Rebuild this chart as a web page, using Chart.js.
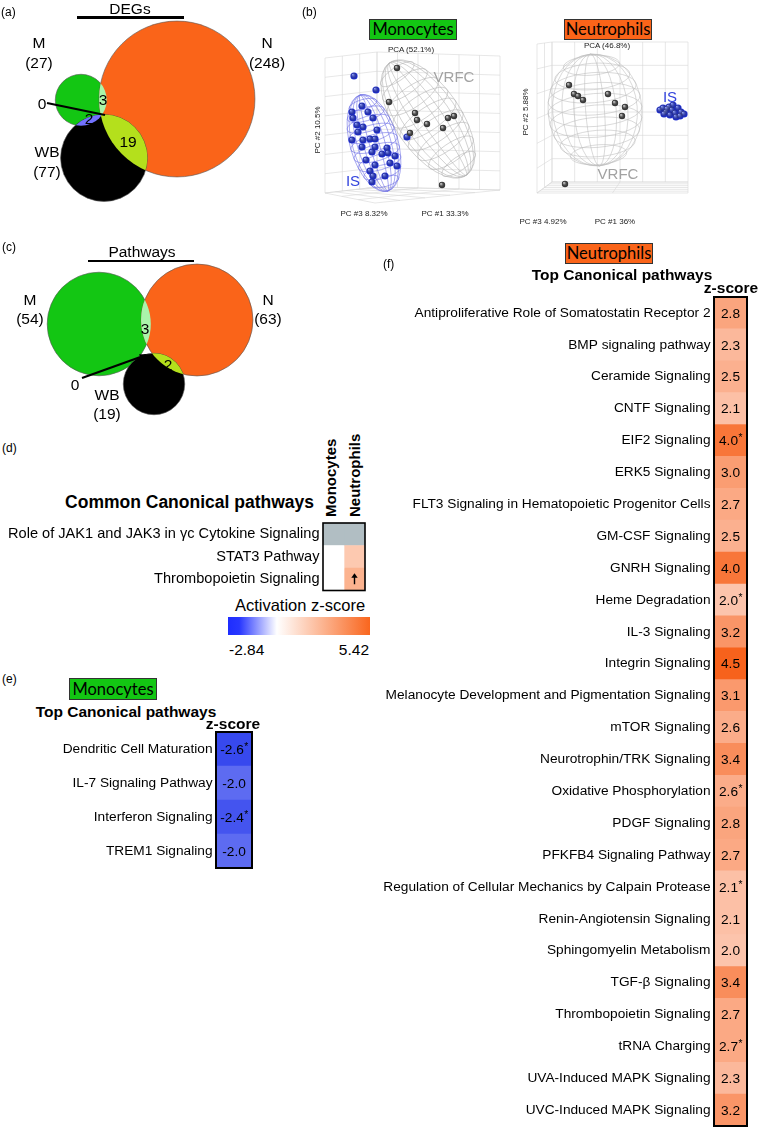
<!DOCTYPE html>
<html>
<head>
<meta charset="utf-8">
<script src="https://cdn.jsdelivr.net/npm/chart.js@4.4.1/dist/chart.umd.min.js"></script>
<style>
  html, body { margin: 0; padding: 0; background: #fff; }
  #page { position: relative; width: 760px; height: 1132px; overflow: hidden;
          font-family: "Liberation Sans", Arial, sans-serif; color: #000; }
  #page canvas { position: absolute; }
  .t { position: absolute; white-space: nowrap; line-height: 1; }
  .tag { position: absolute; font-family: Lato, sans-serif; font-size: 16.5px; border: 1px solid #333;
         text-align: center; box-sizing: border-box; }
  .rule { position: absolute; background: #000; }
</style>
</head>
<body>
<div id="page">
  <canvas id="vennA" width="300" height="240" style="left:0;top:0"></canvas>
  <canvas id="pcaMono" width="215" height="185" style="left:300px;top:40px"></canvas>
  <canvas id="pcaNeut" width="245" height="190" style="left:515px;top:40px"></canvas>
  <canvas id="vennC" width="300" height="200" style="left:0;top:240px"></canvas>
  <canvas id="heatD" width="372" height="76" style="left:0;top:518px"></canvas>
  <canvas id="heatE" width="258" height="144" style="left:0;top:728px"></canvas>
  <canvas id="heatF" width="390" height="839" style="left:370px;top:293px"></canvas>
</div>
<script>
// ---------- data ----------
const vennSets = ['M', 'N', 'WB'];
const degCounts = [27, 248, 77];
const degShared = [3, 2, 19, 0];     // M∩N, M∩WB, N∩WB, all three
const pathCounts = [54, 63, 19];
const pathShared = [3, 0, 2, 0];

// PCA, positions on the projected plane of the 3-D plots
const monoIS = [[354,76],[376,90],[352,112],[362,106],[353,118],[368,112],[373,118],[363,127],
  [358,132],[352,140],[363,140],[370,139],[375,139],[362,147],[375,147],[372,152],[387,148],
  [382,154],[388,153],[395,156],[390,163],[397,166],[375,165],[370,171],[385,176],[373,176],
  [372,182],[407,137],[377,130],[357,125],[366,160]];
const monoVRFC = [[397,68],[389,102],[415,113],[417,120],[427,124],[448,118],[454,116],
  [443,128],[410,133],[442,185]];
const neutIS = [[660,110],[663,108],[666,112],[669,107],[672,110],[675,113],[678,108],[681,112],
  [684,114],[670,115],[676,117],[664,114],[673,105],[680,116],[667,109]];
const neutVRFC = [[569,85],[574,94],[578,96],[583,100],[608,94],[615,103],[625,107],[622,116],[565,184]];

const commonPathways = ['Role of JAK1 and JAK3 in γc Cytokine Signaling', 'STAT3 Pathway', 'Thrombopoietin Signaling'];
const commonMonoZ = [null, 0, 0];
const commonNeutZ = [null, 1.9, 2.7];
const commonNeutMark = ['', '', '↑'];
const zRange = [-2.84, 5.42];

const monoPathways = ['Dendritic Cell Maturation', 'IL-7 Signaling Pathway', 'Interferon Signaling', 'TREM1 Signaling'];
const monoZ = [-2.6, -2.0, -2.4, -2.0];
const monoStar = [1, 0, 1, 0];

const neutPathways = [
  'Antiproliferative Role of Somatostatin Receptor 2', 'BMP signaling pathway', 'Ceramide Signaling',
  'CNTF Signaling', 'EIF2 Signaling', 'ERK5 Signaling', 'FLT3 Signaling in Hematopoietic Progenitor Cells',
  'GM-CSF Signaling', 'GNRH Signaling', 'Heme Degradation', 'IL-3 Signaling', 'Integrin Signaling',
  'Melanocyte Development and Pigmentation Signaling', 'mTOR Signaling', 'Neurotrophin/TRK Signaling',
  'Oxidative Phosphorylation', 'PDGF Signaling', 'PFKFB4 Signaling Pathway',
  'Regulation of Cellular Mechanics by Calpain Protease', 'Renin-Angiotensin Signaling',
  'Sphingomyelin Metabolism', 'TGF-β Signaling', 'Thrombopoietin Signaling', 'tRNA Charging',
  'UVA-Induced MAPK Signaling', 'UVC-Induced MAPK Signaling'];
const neutZ = [2.8, 2.3, 2.5, 2.1, 4.0, 3.0, 2.7, 2.5, 4.0, 2.0, 3.2, 4.5, 3.1, 2.6, 3.4, 2.6,
  2.8, 2.7, 2.1, 2.1, 2.0, 3.4, 2.7, 2.7, 2.3, 3.2];
const neutStar = [0,0,0,0,1,0,0,0,0,1,0,0,0,0,0,1,0,0,1,0,0,0,0,1,0,0];

// ---------- helpers ----------
const page = document.getElementById('page');
Chart.defaults.font.family = '"Liberation Sans", Arial, sans-serif';
Chart.defaults.color = '#000';

function txt(s, x, y, o = {}) {
  const d = document.createElement('div');
  d.className = 't';
  d.textContent = s;
  d.style.left = x + 'px';
  d.style.top = y + 'px';
  d.style.fontSize = (o.size || 15.5) + 'px';
  if (o.bold) d.style.fontWeight = 'bold';
  if (o.color) d.style.color = o.color;
  if (o.up) {           // rotated, reading upwards from (x, y)
    d.style.transformOrigin = '0 0';
    d.style.transform = 'rotate(-90deg) translate(0, -50%)';
  } else {
    const ax = o.align === 'left' ? '0' : o.align === 'right' ? '-100%' : '-50%';
    d.style.transform = `translate(${ax}, -50%)` + (o.rot ? ` rotate(${o.rot}deg)` : '');
  }
  page.appendChild(d);
}
function tag(s, x, y, w, h, bg) {
  const d = document.createElement('div');
  d.className = 'tag';
  d.textContent = s;
  Object.assign(d.style, { left: x + 'px', top: y + 'px', width: w + 'px', height: h + 'px',
    lineHeight: (h - 2) + 'px', background: bg });
  page.appendChild(d);
}
function rule(x, y, w, h) {
  const d = document.createElement('div');
  d.className = 'rule';
  Object.assign(d.style, { left: x + 'px', top: y + 'px', width: w + 'px', height: h + 'px' });
  page.appendChild(d);
}
function mix(a, b, t) {
  t = Math.max(0, Math.min(1, t));
  return 'rgb(' + a.map((v, i) => Math.round(v + (b[i] - v) * t)).join(',') + ')';
}
const neutColor = z => mix([252, 196, 172], [247, 98, 28], (z - 2) / 2.5);
const monoColor = z => mix([125, 135, 243], [30, 50, 236], (-z - 1.5) / 1.5);
const scaleColor = z => z == null ? '#b1bec3'
  : z < 0 ? mix([255, 255, 255], [30, 45, 255], z / zRange[0])
  : mix([255, 255, 255], [249, 102, 30], z / zRange[1]);

// ---------- venn diagrams ----------
const vennColors = ['#13c613', '#fa6419', '#000000'];

const vennPaint = {
  id: 'vennPaint',
  afterDatasetsDraw(chart, args, o) {
    const c = chart.ctx, pts = chart.getDatasetMeta(0).data;
    const circle = p => { c.beginPath(); c.arc(p.x, p.y, p.options.radius, 0, Math.PI * 2); };
    o.lenses.forEach(([i, j, n, col]) => {
      if (!n) return;
      c.save(); circle(pts[i]); c.clip(); circle(pts[j]); c.fillStyle = col; c.fill(); c.restore();
    });
    const sx = chart.scales.x, sy = chart.scales.y;
    const p = o.pointer;
    const x1 = sx.getPixelForValue(p.from[0]), y1 = sy.getPixelForValue(p.from[1]);
    const x2 = sx.getPixelForValue(p.to[0]), y2 = sy.getPixelForValue(p.to[1]);
    c.save();
    c.strokeStyle = '#000'; c.fillStyle = '#000'; c.lineWidth = 2.2;
    c.beginPath(); c.moveTo(x1, y1); c.lineTo(x2, y2); c.stroke();
    if (p.head) {
      const a = Math.atan2(y2 - y1, x2 - x1);
      c.beginPath();
      c.moveTo(x2 + 2 * Math.cos(a), y2 + 2 * Math.sin(a));
      c.lineTo(x2 - 7 * Math.cos(a - 0.45), y2 - 7 * Math.sin(a - 0.45));
      c.lineTo(x2 - 7 * Math.cos(a + 0.45), y2 - 7 * Math.sin(a + 0.45));
      c.closePath(); c.fill();
    }
    c.restore();
  }
};

function venn(id, counts, shared, layout, box, pointer) {
  new Chart(document.getElementById(id), {
    type: 'bubble',
    data: {
      datasets: [{
        data: vennSets.map((s, i) => ({ x: layout.x[i], y: layout.y[i], r: layout.k * Math.sqrt(counts[i]) })),
        backgroundColor: vennColors,
        borderColor: '#555',
        borderWidth: 0.6,
        clip: false
      }]
    },
    options: {
      responsive: false, animation: false, events: [],
      layout: { padding: 0, autoPadding: false },
      scales: {
        x: { display: false, min: box[0], max: box[1] },
        y: { display: false, min: box[2], max: box[3], reverse: true }
      },
      plugins: {
        legend: { display: false }, tooltip: { enabled: false },
        vennPaint: {
          lenses: [[0, 1, shared[0], '#aaf5aa'], [0, 2, shared[1], '#7272ff'], [1, 2, shared[2], '#b4e01c']],
          pointer
        }
      }
    },
    plugins: [vennPaint]
  });
}

venn('vennA', degCounts, degShared, { x: [81, 177, 104], y: [100, 99, 158], k: 4.95 }, [0, 300, 0, 240],
  { from: [47, 103], to: [105, 115], head: false });
venn('vennC', pathCounts, pathShared, { x: [99, 197, 154], y: [324, 320, 384], k: 7.05 }, [0, 300, 240, 440],
  { from: [82, 378], to: [146, 355], head: true });

// venn texts
txt('(a)', 1, 12, { size: 12, align: 'left' });
txt('DEGs', 130, 9);
rule(77, 16, 107, 2.5);
const degPos = [[39, 43], [267, 43], [47, 152]];
vennSets.forEach((s, i) => { txt(s, degPos[i][0], degPos[i][1]); txt('(' + degCounts[i] + ')', degPos[i][0], degPos[i][1] + 19.5); });
txt(String(degShared[3]), 42, 104);
txt(String(degShared[0]), 103, 100);
txt(String(degShared[1]), 89, 119);
txt(String(degShared[2]), 128, 142);

txt('(c)', 2, 247, { size: 12, align: 'left' });
txt('Pathways', 142, 252);
rule(88, 259.5, 106, 2.5);
const pathPos = [[30, 300], [268, 300], [107, 395]];
vennSets.forEach((s, i) => { txt(s, pathPos[i][0], pathPos[i][1]); txt('(' + pathCounts[i] + ')', pathPos[i][0], pathPos[i][1] + 19); });
txt(String(pathShared[3]), 75, 385);
txt(String(pathShared[0]), 145, 329);
txt(String(pathShared[2]), 168, 365);

// ---------- PCA plots ----------
function quadGrid(q, nu, nv) {
  const lerp = (a, b, t) => [a[0] + (b[0] - a[0]) * t, a[1] + (b[1] - a[1]) * t];
  const L = [];
  for (let i = 0; i <= nu; i++) L.push([lerp(q[0], q[1], i / nu), lerp(q[3], q[2], i / nu)]);
  for (let j = 0; j <= nv; j++) L.push([lerp(q[0], q[3], j / nv), lerp(q[1], q[2], j / nv)]);
  return L;
}

const pcaFrame = {
  id: 'pcaFrame',
  beforeDatasetsDraw(chart, args, o) {
    const c = chart.ctx, sx = chart.scales.x, sy = chart.scales.y;
    const P = p => [sx.getPixelForValue(p[0]), sy.getPixelForValue(p[1])];
    c.save();
    c.lineWidth = 0.6;
    c.strokeStyle = '#d6d6d6';
    o.walls.forEach(w => quadGrid(w.q, w.nu, w.nv).forEach(([a, b]) => {
      const A = P(a), B = P(b);
      c.beginPath(); c.moveTo(A[0], A[1]); c.lineTo(B[0], B[1]); c.stroke();
    }));
    o.ellipsoids.forEach(e => {
      const [ex, ey] = P([e.x, e.y]);
      c.save();
      c.translate(ex, ey); c.rotate(e.rot);
      c.strokeStyle = e.color; c.lineWidth = 0.55;
      c.beginPath(); c.ellipse(0, 0, e.rx, e.ry, 0, 0, Math.PI * 2); c.stroke();
      [0.2, 0.45, 0.7, 0.9].forEach(k => {
        c.beginPath(); c.ellipse(0, 0, e.rx * k, e.ry, 0, 0, Math.PI * 2); c.stroke();
      });
      for (let i = 1; i < 10; i++) {
        const t = -1 + i * 0.2, hw = e.rx * Math.sqrt(1 - t * t);
        c.beginPath(); c.ellipse(0, e.ry * t, hw, hw * 0.35, 0, 0, Math.PI * 2); c.stroke();
      }
      c.restore();
    });
    c.restore();
  },
  // shading on top of the points so they read as spheres
  afterDatasetsDraw(chart) {
    const c = chart.ctx;
    chart.data.datasets.forEach((ds, di) => {
      chart.getDatasetMeta(di).data.forEach(pt => {
        const r = pt.options.radius;
        if (!isFinite(pt.x) || !isFinite(pt.y)) return;
        const g = c.createRadialGradient(pt.x - r * 0.35, pt.y - r * 0.4, 0.2, pt.x, pt.y, r);
        g.addColorStop(0, ds.light);
        g.addColorStop(1, 'rgba(0,0,0,0)');
        c.beginPath(); c.arc(pt.x, pt.y, r, 0, Math.PI * 2);
        c.fillStyle = g; c.fill();
      });
    });
  }
};

function pca(id, box, groups, walls, ellipsoids) {
  new Chart(document.getElementById(id), {
    type: 'scatter',
    data: {
      datasets: groups.map(g => ({
        data: g.pts.map(([x, y]) => ({ x, y })),
        pointRadius: g.r,
        backgroundColor: g.base,
        light: g.light,
        borderWidth: 0,
        clip: false
      }))
    },
    options: {
      responsive: false, animation: false, events: [],
      layout: { padding: 0, autoPadding: false },
      scales: {
        x: { display: false, min: box[0], max: box[1] },
        y: { display: false, min: box[2], max: box[3], reverse: true }
      },
      plugins: { legend: { display: false }, tooltip: { enabled: false }, pcaFrame: { walls, ellipsoids } }
    },
    plugins: [pcaFrame]
  });
}

pca('pcaMono', [300, 515, 40, 225],
  [{ pts: monoVRFC, r: 3.2, base: '#3c3c3c', light: 'rgba(235,235,235,0.95)' },
   { pts: monoIS, r: 3.6, base: '#1f2fd8', light: 'rgba(150,165,255,0.95)' }],
  [{ q: [[325, 58], [377, 52], [377, 187], [325, 193]], nu: 3, nv: 7 },
   { q: [[377, 52], [500, 56], [500, 190], [377, 187]], nu: 6, nv: 7 },
   { q: [[325, 193], [377, 187], [500, 190], [375, 203]], nu: 5, nv: 3 }],
  [{ x: 428, y: 119, rx: 33, ry: 68, rot: -0.6, color: '#b4b4b4' },
   { x: 374, y: 143, rx: 24, ry: 50, rot: -0.28, color: '#6f72e6' }]);

pca('pcaNeut', [515, 760, 40, 230],
  [{ pts: neutVRFC, r: 3.2, base: '#3c3c3c', light: 'rgba(235,235,235,0.95)' },
   { pts: neutIS, r: 3.6, base: '#1f2fd8', light: 'rgba(150,165,255,0.95)' }],
  [{ q: [[537, 44], [552, 42], [552, 182], [537, 193]], nu: 2, nv: 6 },
   { q: [[552, 42], [688, 42], [688, 182], [552, 182]], nu: 6, nv: 6 },
   { q: [[537, 193], [552, 182], [688, 182], [688, 193]], nu: 6, nv: 2 }],
  [{ x: 595, y: 110, rx: 47, ry: 56, rot: -0.08, color: '#bdbdbd' }]);

txt('(b)', 302, 12, { size: 12, align: 'left' });
tag('Monocytes', 369, 19, 88, 21, '#13c613');
tag('Neutrophils', 564, 19, 88, 21, '#fa6419');
const small = { size: 8, color: '#222' };
txt('PCA (52.1%)', 411, 50, small);
txt('PC #2 10.5%', 318, 130, { ...small, rot: -90 });
txt('PC #3 8.32%', 364, 214, small);
txt('PC #1 33.3%', 445, 214, small);
txt('VRFC', 454, 76, { size: 15, color: '#a2a2a2' });
txt('IS', 353, 180, { size: 15, color: '#3344dd' });
txt('PCA (46.8%)', 607, 46, small);
txt('PC #2 5.88%', 526, 112, { ...small, rot: -90 });
txt('PC #3 4.92%', 543, 222, small);
txt('PC #1 36%', 615, 222, small);
txt('VRFC', 618, 173, { size: 15, color: '#a2a2a2' });
txt('IS', 670, 96, { size: 15, color: '#3344dd' });

// ---------- heat maps ----------
const cellText = {
  id: 'cellText',
  afterDatasetsDraw(chart, args, o) {
    const c = chart.ctx, a = chart.chartArea;
    c.save();
    c.fillStyle = '#000';
    c.textBaseline = 'middle';
    if (o.values) {
      chart.getDatasetMeta(0).data.forEach((bar, i) => {
        const cx = (bar.x + bar.base) / 2, cy = bar.y;
        const s = o.values[i].toFixed(1);
        c.font = `${o.size}px "Liberation Sans", Arial, sans-serif`;
        const w = c.measureText(s).width;
        const x0 = cx - w / 2 - (o.stars[i] ? 2 : 0);
        c.textAlign = 'left';
        c.fillText(s, x0, cy + 1);
        if (o.stars[i]) {
          c.font = `${o.size * 0.75}px "Liberation Sans", Arial, sans-serif`;
          c.fillText('*', x0 + w + 0.5, cy - 2);
        }
      });
    }
    if (o.marks) {
      chart.getDatasetMeta(1).data.forEach((bar, i) => {
        if (!o.marks[i]) return;
        const cx = (bar.x + bar.base) / 2, cy = bar.y;
        c.lineWidth = 1.4; c.strokeStyle = '#000';
        c.beginPath(); c.moveTo(cx, cy + 5); c.lineTo(cx, cy - 3); c.stroke();
        c.beginPath(); c.moveTo(cx, cy - 6); c.lineTo(cx - 3.2, cy - 1.5); c.lineTo(cx + 3.2, cy - 1.5); c.closePath(); c.fill();
      });
    }
    c.lineWidth = o.frame;
    c.strokeStyle = '#000';
    c.strokeRect(a.left, a.top, a.right - a.left, a.bottom - a.top);
    c.restore();
  }
};

function heat(id, labels, datasets, labelWidth, padding, fontSize, xmax, textOpts) {
  new Chart(document.getElementById(id), {
    type: 'bar',
    data: { labels, datasets },
    options: {
      indexAxis: 'y', responsive: false, animation: false, events: [],
      layout: { padding, autoPadding: false },
      datasets: { bar: { barPercentage: 1, categoryPercentage: 1, borderWidth: 0 } },
      scales: {
        x: { display: false, min: 0, max: xmax, stacked: true },
        y: {
          stacked: true,
          // fixed label column, and no extra room for the first/last label
          afterFit: s => { s.width = labelWidth; s.paddingTop = 0; s.paddingBottom = 0; },
          grid: { display: false, drawTicks: false }, border: { display: false },
          ticks: { autoSkip: false, padding: 3.5, color: '#000', font: { size: fontSize } }
        }
      },
      plugins: { legend: { display: false }, tooltip: { enabled: false }, cellText: textOpts }
    },
    plugins: [cellText]
  });
}

// (d) common pathways
heat('heatD', commonPathways,
  [{ label: 'Monocytes', data: commonPathways.map(() => 1), backgroundColor: commonMonoZ.map(scaleColor) },
   { label: 'Neutrophils', data: commonPathways.map(() => 1), backgroundColor: commonNeutZ.map(scaleColor) }],
  323, { top: 5, bottom: 3.5, right: 7, left: 0 }, 14.6, 2, { marks: commonNeutMark, frame: 1.6 });

txt('(d)', 2, 448, { size: 12, align: 'left' });
txt('Common Canonical pathways', 314, 503, { size: 17.5, bold: true, align: 'right' });
txt('Monocytes', 330, 517, { size: 15, bold: true, up: true });
txt('Neutrophils', 354, 517, { size: 15, bold: true, up: true });
txt('Activation z-score', 300, 605, { size: 16.5 });
const bar = document.createElement('div');
Object.assign(bar.style, {
  position: 'absolute', left: '228px', top: '617px', width: '142px', height: '18px',
  background: `linear-gradient(to right, rgb(30,45,255) 0%, rgb(40,55,255) 8%, #fff ${(-zRange[0] / (zRange[1] - zRange[0]) * 100).toFixed(1)}%, rgb(249,102,30) 100%)`
});
page.appendChild(bar);
txt(zRange[0].toFixed(2), 229, 650, { size: 15.5, align: 'left' });
txt(zRange[1].toFixed(2), 369, 650, { size: 15.5, align: 'right' });

// (e) monocytes
heat('heatE', monoPathways,
  [{ data: monoPathways.map(() => 1), backgroundColor: monoZ.map(monoColor) }],
  216, { top: 4, bottom: 4, right: 6, left: 0 }, 13.7, 1, { values: monoZ, stars: monoStar, size: 13.7, frame: 2 });
txt('(e)', 2, 679, { size: 12, align: 'left' });
tag('Monocytes', 69, 678, 88, 22, '#13c613');
txt('Top Canonical pathways', 126, 712, { size: 15.5, bold: true });
txt('z-score', 233, 724, { size: 15.5, bold: true });

// (f) neutrophils
heat('heatF', neutPathways,
  [{ data: neutPathways.map(() => 1), backgroundColor: neutZ.map(neutColor) }],
  344, { top: 4, bottom: 6, right: 13, left: 0 }, 13.7, 1, { values: neutZ, stars: neutStar, size: 13.7, frame: 2 });
txt('(f)', 383, 264, { size: 12, align: 'left' });
tag('Neutrophils', 565, 243, 88, 21, '#fa6419');
txt('Top Canonical pathways', 622, 275, { size: 15.5, bold: true });
txt('z-score', 731, 288, { size: 15.5, bold: true });
</script>
</body>
</html>
